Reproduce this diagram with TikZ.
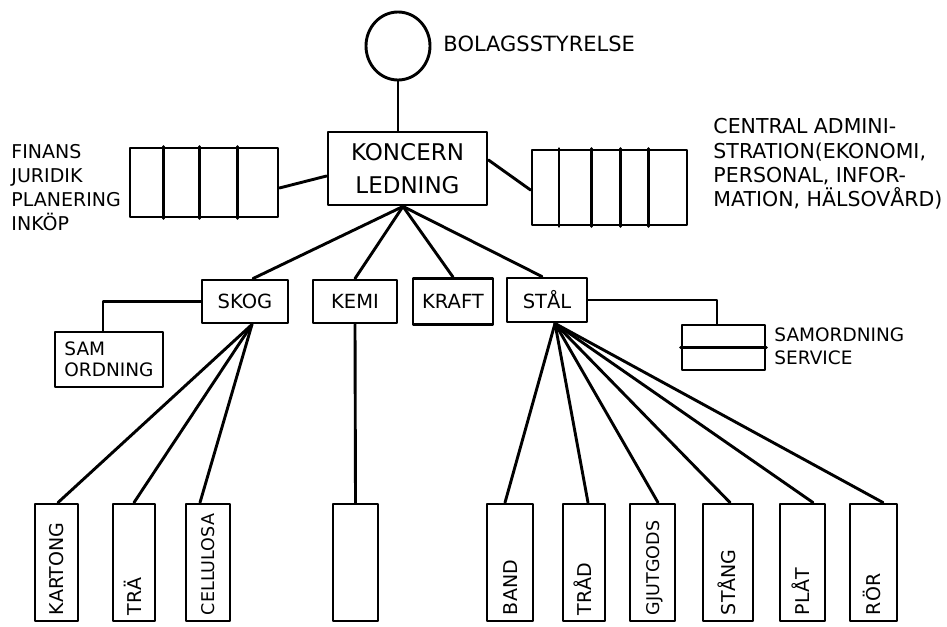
\documentclass[tikz,border=0pt]{standalone}
\usepackage{fontspec}
\setmainfont{DejaVu Sans}
\usetikzlibrary{calc,shapes.geometric}
\begin{document}
\begin{tikzpicture}[x=1pt,y=-1pt, line width=2.9pt, line cap=round, line join=round,
  box/.style={draw, rectangle, inner sep=0pt},
  lbl/.style={inner sep=0pt, anchor=west, align=left},
  vlbl/.style={inner sep=0pt, rotate=90, anchor=base west, font=\fontsize{19}{19}\selectfont},
  mid/.style={box, font=\fontsize{19.5}{19.5}\selectfont},
  prod/.style={box, minimum height=117pt}]
\fill[white] (0,0) rectangle (947,626);
\useasboundingbox (0,0) rectangle (947,626);

% board
\node[draw, ellipse, minimum width=64pt, minimum height=68pt, inner sep=0pt] (board) at (398,46) {};
\node[lbl, font=\fontsize{21}{21}\selectfont] (boardl) at (442,44) {BOLAGSSTYRELSE};

% group management
\node[box, minimum width=159pt, minimum height=73pt, align=center, font=\fontsize{23}{33}\selectfont] (kon) at (407.5,168.5) {KONCERN\\LEDNING};
\draw (board.south) -- (board.south |- kon.north);

% left staff box
\node[box, minimum width=148pt, minimum height=69pt] (staff) at (204,182.5) {};
\foreach \f in {0.23,0.47,0.72}
  \draw ($(staff.north west)!\f!(staff.north east)$) -- ($(staff.south west)!\f!(staff.south east)$);
\draw ([yshift=-5.5pt]staff.east) -- ([yshift=-7.5pt]kon.west);
\node[lbl, font=\fontsize{19}{24}\selectfont] (stafft) at (10,188) {FINANS\\JURIDIK\\PLANERING\\INKÖP};

% right admin box
\node[box, minimum width=155pt, minimum height=75pt] (adm) at (609.5,187.5) {};
\foreach \f in {0.18,0.387,0.568,0.748}
  \draw ($(adm.north west)!\f!(adm.north east)$) -- ($(adm.south west)!\f!(adm.south east)$);
\draw ([yshift=8.5pt]kon.east) -- ([yshift=-2.5pt]adm.west);
\node[lbl, font=\fontsize{20.5}{24.3}\selectfont] (admt) at (712,164) {CENTRAL ADMINI-\\STRATION(EKONOMI,\\PERSONAL, INFOR-\\MATION, HÄLSOVÅRD)};

% divisions
\node[mid, minimum width=86pt, minimum height=43pt] (skog) at (245,301.5) {SKOG};
\node[mid, minimum width=84pt, minimum height=43pt] (kemi) at (355,301.5) {KEMI};
\node[mid, minimum width=80pt, minimum height=46pt] (kraft) at (453,301.5) {KRAFT};
\node[mid, minimum width=80pt, minimum height=44pt] (stal) at (547,300) {STÅL};

\coordinate (konb) at ([xshift=-4.5pt]kon.south);
\draw (konb) -- ([xshift=8pt]skog.north);
\draw (konb) -- (kemi.north);
\draw (konb) -- (kraft.north);
\draw (konb) -- ([xshift=-5pt]stal.north);

% samordning (skog)
\node[box, minimum width=108pt, minimum height=55pt, align=left, font=\fontsize{18.5}{21}\selectfont] (sam) at (109,359.5) {SAM\\ORDNING};
\draw (skog.west) -| ([xshift=-6pt]sam.north);

% samordning service (stal)
\node[box, minimum width=83pt, minimum height=45pt] (serv) at (723.5,347.5) {};
\draw (serv.west) -- (serv.east);
\draw (stal.east) -| ([xshift=-6.5pt]serv.north);
\node[lbl, font=\fontsize{18.5}{23}\selectfont] (servt) at (773,346.5) {SAMORDNING\\SERVICE};

% product units
\node[prod, minimum width=43pt] (kart) at (56.5,562.5) {};
\node[prod, minimum width=42pt] (tra) at (134,562.5) {};
\node[prod, minimum width=44pt] (cell) at (208,562.5) {};
\node[prod, minimum width=45pt] (kemiu) at (355.5,562.5) {};
\node[prod, minimum width=46pt] (band) at (510,562.5) {};
\node[prod, minimum width=42pt] (trad) at (584,562.5) {};
\node[prod, minimum width=45pt] (gjut) at (652.5,562.5) {};
\node[prod, minimum width=50pt] (stang) at (728,562.5) {};
\node[prod, minimum width=45pt] (plat) at (802.5,562.5) {};
\node[prod, minimum width=47pt] (ror) at (873.5,562.5) {};

\coordinate (skogb) at ([xshift=7pt]skog.south);
\draw (skogb) -- ([xshift=1.5pt]kart.north);
\draw (skogb) -- (tra.north);
\draw (skogb) -- ([xshift=-8pt]cell.north);
\draw (kemi.south) -- (kemiu.north);
\coordinate (stalb) at ([xshift=8pt]stal.south);
\draw (stalb) -- ([xshift=-5pt]band.north);
\draw (stalb) -- ([xshift=4pt]trad.north);
\draw (stalb) -- ([xshift=5.5pt]gjut.north);
\draw (stalb) -- ([xshift=2pt]stang.north);
\draw (stalb) -- ([xshift=10.5pt]plat.north);
\draw (stalb) -- ([xshift=9.5pt]ror.north);

% vertical labels
\node[vlbl] (kartt) at ([xshift=7pt,yshift=6pt]kart.south) {KARTONG};
\node[vlbl] (trat) at ([xshift=7pt,yshift=6pt]tra.south) {TRÄ};
\node[vlbl, font=\fontsize{17.5}{17.5}\selectfont] (cellt) at ([xshift=6.5pt,yshift=6pt]cell.south) {CELLULOSA};
\node[vlbl] (bandt) at ([xshift=7pt,yshift=6pt]band.south) {BAND};
\node[vlbl] (tradt) at ([xshift=7pt,yshift=6pt]trad.south) {TRÅD};
\node[vlbl, font=\fontsize{17.5}{17.5}\selectfont] (gjutt) at ([xshift=6.5pt,yshift=6pt]gjut.south) {GJUTGODS};
\node[vlbl] (stangt) at ([xshift=7pt,yshift=6pt]stang.south) {STÅNG};
\node[vlbl] (platt) at ([xshift=7pt,yshift=6pt]plat.south) {PLÅT};
\node[vlbl] (rort) at ([xshift=7pt,yshift=6pt]ror.south) {RÖR};
\end{tikzpicture}
\end{document}
